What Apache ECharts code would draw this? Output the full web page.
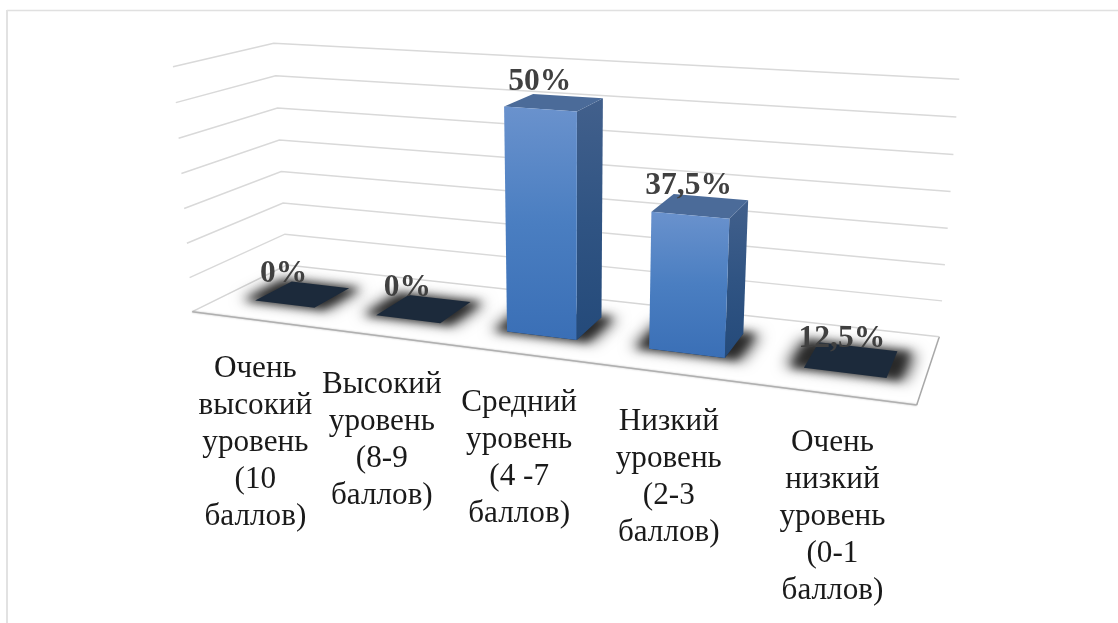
<!DOCTYPE html>
<html>
<head>
<meta charset="utf-8">
<style>html,body{margin:0;padding:0;background:#fff}#c{width:1118px;height:623px}</style>
<script src="https://cdn.jsdelivr.net/npm/echarts@6/dist/echarts.min.js"></script>
</head>
<body>
<div id="c"></div>
<script>
const categories = [
  'Очень\nвысокий\nуровень\n(10\nбаллов)',
  'Высокий\nуровень\n(8-9\nбаллов)',
  'Средний\nуровень\n(4 -7\nбаллов)',
  'Низкий\nуровень\n(2-3\nбаллов)',
  'Очень\nнизкий\nуровень\n(0-1\nбаллов)'
];
const values = [0, 0, 50, 37.5, 12.5];
const valueLabels = ['0%', '0%', '50%', '37,5%', '12,5%'];
const axisMin = 19, axisMax = 54;
const axisTicks = [19, 24, 29, 34, 39, 44, 49, 54];

// Perspective camera: floor corners, order front-left, front-right, back-right, back-left
const FLOOR = [[192.3,311.7],[916.7,405],[939.3,336.7],[286.7,265]];
// full wall height on screen at three floor corners
const H_FL = 245, H_BL = 221.7, H_BR = 257.4;
// vanishing point of the vertical edges
const VX = 570, VY = 5100;

function homography(q){
  const [p0,p1,p2,p3]=q;
  const dx1=p1[0]-p2[0],dx2=p3[0]-p2[0],sx=p0[0]-p1[0]+p2[0]-p3[0];
  const dy1=p1[1]-p2[1],dy2=p3[1]-p2[1],sy=p0[1]-p1[1]+p2[1]-p3[1];
  const den=dx1*dy2-dx2*dy1;
  const g=(sx*dy2-dx2*sy)/den,h=(dx1*sy-sx*dy1)/den;
  const a=p1[0]-p0[0]+g*p1[0],b=p3[0]-p0[0]+h*p3[0],c=p0[0];
  const d=p1[1]-p0[1]+g*p1[1],e=p3[1]-p0[1]+h*p3[1],f=p0[1];
  return (u,v)=>{const w=g*u+h*v+1;return [(a*u+b*v+c)/w,(d*u+e*v+f)/w];};
}
const floorH=homography(FLOOR);
function P(u,d,h){
  const s=h*0.97+0.03*h*h;
  const f=floorH(u,d);
  const inv=1/H_FL+(1/H_BR-1/H_BL)*u+(1/H_BL-1/H_FL)*d;
  const H=1/inv;
  const t=H/(VY-f[1]);
  return [f[0]+t*(f[0]-VX)*s,f[1]-H*s];
}
const poly=(pts,style,z2)=>({type:'polygon',shape:{points:pts},style,z2:z2||0,silent:true});
const grad=(c0,c1,c2)=>({type:'linear',x:0,y:0,x2:0,y2:1,colorStops:[{offset:0,color:c0},{offset:.5,color:c1},{offset:1,color:c2}]});

function model(params,api,i,v){
  const cs=params.coordSys;
  const pt=api.coord([i,v]);
  return {u:(pt[0]-cs.x)/cs.width,
          h:Math.max(0,Math.min(1,(cs.y+cs.height-pt[1])/cs.height)),
          w:api.size([1,0])[0]/cs.width};
}
const BAR=0.50, D0=0.30, D1=0.70, SHIFT=0.006;
const OFF=3000; // the shadow caster sits off the page; only its blurred shadow lands on the floor

function renderWalls(params,api){
  const m=model(params,api,0,api.value(1));
  const children=[];
  if(params.dataIndex===0){
    children.push({type:'polyline',shape:{points:[FLOOR[1],FLOOR[2]]},style:{stroke:'#a8a8a8',lineWidth:1.5,fill:null},silent:true});
    children.push({type:'polyline',shape:{points:[FLOOR[2],FLOOR[3],FLOOR[0]]},style:{stroke:'#d6d6d6',lineWidth:1.5,fill:null},silent:true});
    children.push({type:'polyline',shape:{points:[FLOOR[0],FLOOR[1]]},style:{stroke:'#b0b0b0',lineWidth:1.6,fill:null,shadowBlur:2,shadowColor:'rgba(0,0,0,.25)'},silent:true});
  } else {
    children.push({type:'polyline',shape:{points:[P(0,0,m.h),P(0,1,m.h),P(1,1,m.h)]},style:{stroke:'#d9d9d9',lineWidth:1.5,fill:null},silent:true});
  }
  return {type:'group',children};
}
function shadowLayer(u0,u1,du,dd,blur,alpha){
  const pts=[P(u0-du,D0-dd,0),P(u1+du,D0-dd,0),P(u1+du,D1+dd,0),P(u0-du,D1+dd,0)].map(p=>[p[0]-OFF,p[1]]);
  return poly(pts,{fill:'#000',shadowBlur:blur,shadowColor:'rgba(0,0,0,'+alpha+')',shadowOffsetX:OFF});
}
function renderBar(params,api){
  const i=api.value(0);
  const m=model(params,api,i,api.value(1));
  const hw=m.w*BAR/2, u0=m.u-hw+SHIFT, u1=m.u+hw+SHIFT;
  const children=[
    shadowLayer(u0,u1,0.025,0.01,14,0.55),
    shadowLayer(u0,u1,0.016,0.015,9,0.65)
  ];
  const b=[P(u0,D0,0),P(u1,D0,0),P(u1,D1,0),P(u0,D1,0)];
  children.push(poly(b,{fill:'#1c2a3b'},1));
  if(m.h>0){
    const t=[P(u0,D0,m.h),P(u1,D0,m.h),P(u1,D1,m.h),P(u0,D1,m.h)];
    children.push(poly([b[1],b[2],t[2],t[1]],{fill:grad('#42608c','#305483','#244a7a')},2));
    children.push(poly(t,{fill:'#4b6b99'},3));
    children.push(poly([b[0],b[1],t[1],t[0]],{fill:grad('#6a92cd','#4a7ec1','#3a6fb6')},4));
  }
  return {type:'group',children};
}
function renderValueLabel(params,api){
  const i=api.value(0);
  const m=model(params,api,i,api.value(1));
  const p=P(m.u,0.5,m.h);
  return {type:'text',silent:true,style:{text:valueLabels[i],x:p[0]-17+13.75*m.u,y:p[1]-20,align:'center',verticalAlign:'middle',
    font:'bold 31.5px "Liberation Serif"',fill:'#404040'},z2:10};
}
function renderCategory(params,api){
  const i=api.value(0);
  const m=model(params,api,i,api.value(1));
  const p=P(m.u,0,0);
  return {type:'text',silent:true,style:{text:categories[i],x:p[0]+3.5,y:p[1]+31,align:'center',verticalAlign:'top',
    font:'31.2px "Liberation Serif"',lineHeight:37,fill:'#1a1a1a'}};
}
const idx=categories.map((_,i)=>i);
const rows=idx.map(i=>[i,values[i]]);
const base={type:'custom',clip:false,silent:true,animation:false};
const chart=echarts.init(document.getElementById('c'),null,{renderer:'canvas'});
chart.setOption({
  animation:false,
  backgroundColor:'#fff',
  graphic:[
    {type:'line',shape:{x1:7,y1:10.5,x2:1118,y2:10.5},style:{stroke:'#e0e0e0',lineWidth:1.5},silent:true},
    {type:'line',shape:{x1:7,y1:10,x2:7,y2:623},style:{stroke:'#e2e2e2',lineWidth:2},silent:true}
  ],
  grid:{left:192,right:201,top:60,bottom:263},
  xAxis:{type:'category',data:categories,show:false},
  yAxis:{type:'value',min:axisMin,max:axisMax,show:false},
  tooltip:{show:false},
  series:[
    Object.assign({},base,{name:'walls',z:1,data:axisTicks.map(t=>[0,t]),renderItem:renderWalls}),
    Object.assign({},base,{name:'bars',z:2,data:rows,renderItem:renderBar}),
    Object.assign({},base,{name:'valueLabels',z:3,data:rows,renderItem:renderValueLabel}),
    Object.assign({},base,{name:'categories',z:3,data:rows,renderItem:renderCategory})
  ]
});
</script>
</body>
</html>
